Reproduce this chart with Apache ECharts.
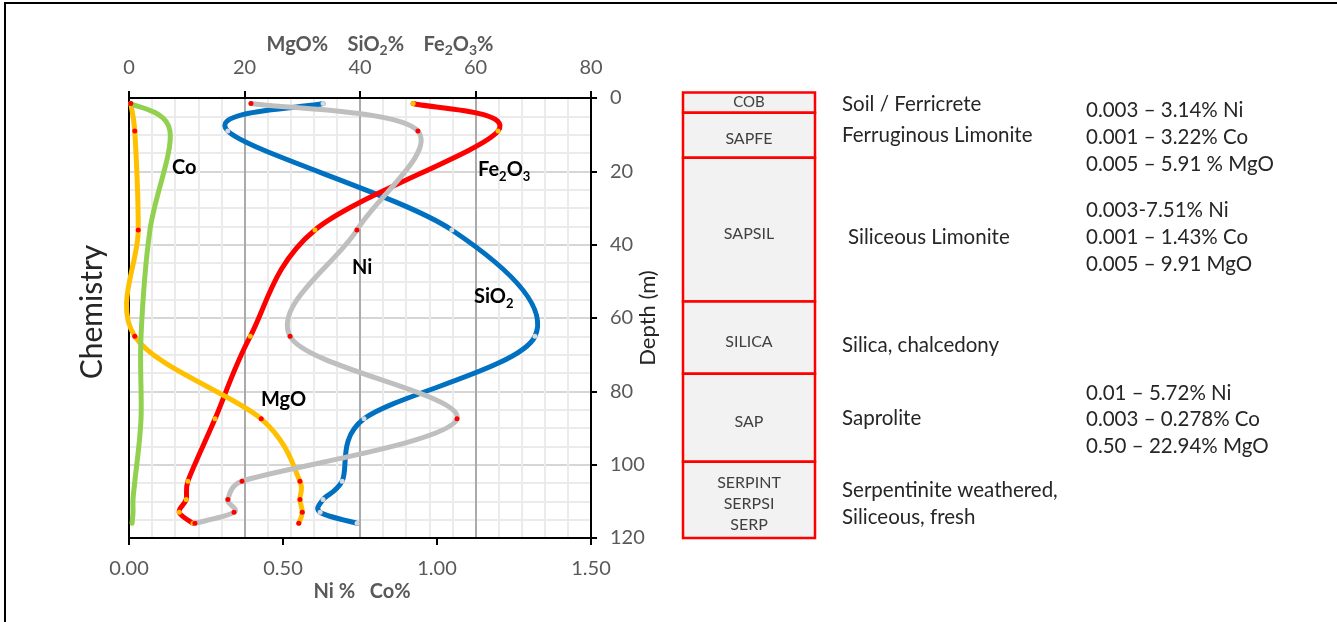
<!DOCTYPE html>
<html>
<head>
<meta charset="utf-8">
<title>Laterite profile chemistry</title>
<script src="https://cdn.jsdelivr.net/npm/echarts@6/dist/echarts.min.js"></script>
<style>
  html, body { margin: 0; padding: 0; background: #ffffff; }
  #chart { width: 1337px; height: 622px; }
</style>
</head>
<body>
<div id="chart"></div>
<script>
// Sample depths (m) shared by all assay series
const depth = [1.5, 9, 36, 65, 87.5, 104.5, 109.5, 113, 116];

// Major oxides, wt% (top axis)
const fe2o3 = [49.2, 63.9, 32.2, 21.0, 14.9, 10.2, 9.9, 8.7, 11.1];
const sio2  = [33.6, 17.1, 55.9, 70.3, 40.7, 36.9, 33.6, 33.1, 39.5];
const mgo   = [0.3, 1.0, 1.6, 1.0, 22.9, 29.6, 29.6, 30.0, 29.4];

// Metals, wt% (bottom axis)
const ni = [0.396, 0.938, 0.740, 0.523, 1.065, 0.367, 0.321, 0.341, 0.214];
const co = [0.006, 0.133, 0.068, 0.039, 0.039, 0.019, 0.013, 0.013, 0.010];

// Axis ticks
const oxideTicks = { min: 0, max: 80, interval: 20 };
const metalTicks = { min: 0, max: 1.5, interval: 0.5 };
const depthTicks = { min: 0, max: 120, interval: 20 };

// Lithological units (depth intervals in m)
const unitCodes = ['COB', 'SAPFE', 'SAPSIL', 'SILICA', 'SAP', 'SERPINT\nSERPSI\nSERP'];
const unitTop   = [-1.5, 4, 16.3, 55.5, 75.2, 99.2];
const unitBase  = [4, 16.3, 55.5, 75.2, 99.2, 120];

// Unit descriptions
const unitDescriptions = [
  'Soil / Ferricrete',
  'Ferruginous Limonite',
  'Siliceous Limonite',
  'Silica, chalcedony',
  'Saprolite',
  'Serpentinite weathered,',
  'Siliceous, fresh'
];

// Grade ranges
const gradeRanges = [
  '0.003 \u2013 3.14% Ni', '0.001 \u2013 3.22% Co', '0.005 \u2013 5.91 % MgO',
  '0.003-7.51% Ni', '0.001 \u2013 1.43% Co', '0.005 \u2013 9.91 MgO',
  '0.01 \u2013 5.72% Ni', '0.003 \u2013 0.278% Co', '0.50 \u2013 22.94% MgO'
];

const FONT = 'Lato, Carlito, Calibri, "Open Sans", sans-serif';
const AXIS_GREY = '#595959';
const TEXT_DARK = '#262626';

function pairs(values) {
  return values.map((v, i) => [v, depth[i]]);
}

// Cardinal spline through pixel points (tension 1/6, handles capped at half a segment)
function smoothPath(pts) {
  const n = pts.length;
  const d = (a, b) => Math.hypot(b[0] - a[0], b[1] - a[1]);
  let path = 'M' + pts[0][0] + ' ' + pts[0][1];
  for (let i = 0; i < n - 1; i++) {
    const p0 = pts[Math.max(i - 1, 0)];
    const p1 = pts[i];
    const p2 = pts[i + 1];
    const p3 = pts[Math.min(i + 2, n - 1)];
    const seg = d(p1, p2);
    const d02 = d(p0, p2) || 1;
    const d13 = d(p1, p3) || 1;
    const f0 = Math.min(1 / 6, seg / (2 * d02));
    const f1 = Math.min(1 / 6, seg / (2 * d13));
    const c1 = [p1[0] + f0 * (p2[0] - p0[0]), p1[1] + f0 * (p2[1] - p0[1])];
    const c2 = [p2[0] - f1 * (p3[0] - p1[0]), p2[1] - f1 * (p3[1] - p1[1])];
    path += ' C' + c1[0] + ' ' + c1[1] + ' ' + c2[0] + ' ' + c2[1] + ' ' + p2[0] + ' ' + p2[1];
  }
  return path;
}

function profileSeries(name, values, xAxisIndex, lineColor, markerColor, showMarkers) {
  return {
    name: name,
    type: 'custom',
    xAxisIndex: xAxisIndex,
    yAxisIndex: 0,
    clip: false,
    animation: false,
    encode: { x: 0, y: 1 },
    data: pairs(values),
    renderItem: function (params, api) {
      const children = [];
      if (params.dataIndex === 0) {
        const pts = values.map((v, i) => api.coord([v, depth[i]]));
        children.push({
          type: 'path',
          z2: 0,
          shape: { pathData: smoothPath(pts) },
          style: { fill: 'none', stroke: lineColor, lineWidth: 5, lineCap: 'round', lineJoin: 'round' }
        });
      }
      if (showMarkers) {
        const p = api.coord([api.value(0), api.value(1)]);
        children.push({
          type: 'circle',
          z2: 10,
          shape: { cx: p[0], cy: p[1], r: 2.5 },
          style: { fill: markerColor }
        });
      }
      return { type: 'group', children: children };
    }
  };
}

const chart = echarts.init(document.getElementById('chart'), null, { renderer: 'canvas' });

const subRich = (size) => ({
  b: { fontFamily: FONT, fontWeight: 'bold', fontSize: size, color: AXIS_GREY, lineHeight: 24 },
  s: { fontFamily: FONT, fontWeight: 'bold', fontSize: Math.round(size * 0.68), color: AXIS_GREY, lineHeight: 15, verticalAlign: 'bottom' }
});

function seriesTag(x, y, rich) {
  return {
    type: 'text',
    x: x, y: y,
    z: 100,
    style: {
      text: rich,
      textAlign: 'left',
      textVerticalAlign: 'middle',
      rich: {
        b: { fontFamily: FONT, fontWeight: 'bold', fontSize: 20, fill: '#000000', lineHeight: 26 },
        s: { fontFamily: FONT, fontWeight: 'bold', fontSize: 13, fill: '#000000', lineHeight: 16, verticalAlign: 'bottom' }
      }
    }
  };
}

function plainText(x, y, text, size, color) {
  return {
    type: 'text',
    x: x, y: y,
    style: {
      text: text,
      fontFamily: FONT,
      fontSize: size,
      fill: color,
      textAlign: 'left',
      textVerticalAlign: 'middle'
    }
  };
}

const descY = [104, 135, 237, 345, 418, 490, 517];
const descX = [842, 842, 848, 842, 842, 842, 842];
const gradeY = [110, 137, 164, 210, 237, 264, 393, 419, 446];

const graphics = [
  // outer frame
  { type: 'rect', shape: { x: 5, y: 3, width: 1345, height: 640 },
    style: { fill: 'none', stroke: '#000000', lineWidth: 2 }, z: 0 },
  seriesTag(172, 168, '{b|Co}'),
  seriesTag(478, 170, '{b|Fe}{s|2}{b|O}{s|3}'),
  seriesTag(352, 268, '{b|Ni}'),
  seriesTag(474, 297, '{b|SiO}{s|2}'),
  seriesTag(261, 400, '{b|MgO}')
];
unitDescriptions.forEach((t, i) => graphics.push(plainText(descX[i], descY[i], t, 20.5, TEXT_DARK)));
gradeRanges.forEach((t, i) => graphics.push(plainText(1086, gradeY[i], t, 20.5, TEXT_DARK)));

const option = {
  backgroundColor: '#ffffff',
  animation: false,
  textStyle: { fontFamily: FONT },
  grid: [
    { left: 129, right: 746, top: 98, bottom: 84, containLabel: false, outerBoundsMode: 'none' },
    { left: 683, right: 522, top: 98, bottom: 84, containLabel: false, outerBoundsMode: 'none' }
  ],
  xAxis: [
    {
      type: 'value', gridIndex: 0, position: 'top',
      min: oxideTicks.min, max: oxideTicks.max, interval: oxideTicks.interval,
      name: '{b|MgO%    SiO}{s|2}{b|%    Fe}{s|2}{b|O}{s|3}{b|%}',
      nameLocation: 'middle', nameGap: 41, nameMoveOverlap: false,
      nameTextStyle: { rich: subRich(20), padding: [0, 0, 0, 40] },
      axisLine: { show: true, onZero: false, lineStyle: { color: '#000000', width: 2 } },
      axisTick: { show: true, inside: false, length: 7, lineStyle: { color: '#000000', width: 2 } },
      axisLabel: { color: AXIS_GREY, fontSize: 20, fontFamily: FONT, margin: 20 },
      splitLine: { show: true, lineStyle: { color: '#ABABAB', width: 2 } },
      minorTick: { show: false, splitNumber: 5 },
      minorSplitLine: { show: true, lineStyle: { color: '#EBEBEB', width: 2 } }
    },
    {
      type: 'value', gridIndex: 0, position: 'bottom',
      min: metalTicks.min, max: metalTicks.max, interval: metalTicks.interval,
      name: 'Ni %   Co%',
      nameLocation: 'middle', nameGap: 44, nameMoveOverlap: false,
      nameTextStyle: { color: AXIS_GREY, fontWeight: 'bold', fontSize: 20, fontFamily: FONT, padding: [0, 0, 0, 4] },
      axisLine: { show: true, onZero: false, lineStyle: { color: '#000000', width: 2 } },
      axisTick: { show: true, inside: false, length: 7, lineStyle: { color: '#000000', width: 2 } },
      axisLabel: { color: AXIS_GREY, fontSize: 20, fontFamily: FONT, margin: 21,
        formatter: (v) => v.toFixed(2) },
      splitLine: { show: false }
    },
    {
      type: 'value', gridIndex: 1, min: 0, max: 1, show: false
    }
  ],
  yAxis: [
    {
      type: 'value', gridIndex: 0, position: 'right', inverse: true,
      min: depthTicks.min, max: depthTicks.max, interval: depthTicks.interval,
      name: 'Depth (m)', nameLocation: 'middle', nameGap: 46, nameMoveOverlap: false,
      nameTextStyle: { color: TEXT_DARK, fontSize: 22, fontFamily: FONT },
      axisLine: { show: true, onZero: false, lineStyle: { color: '#000000', width: 2 } },
      axisTick: { show: true, inside: false, length: 6, lineStyle: { color: '#000000', width: 2 } },
      axisLabel: { color: AXIS_GREY, fontSize: 20, fontFamily: FONT, margin: 19 },
      splitLine: { show: true, lineStyle: { color: '#D6D6D6', width: 2 } },
      minorTick: { show: false, splitNumber: 4 },
      minorSplitLine: { show: true, lineStyle: { color: '#EBEBEB', width: 2 } }
    },
    {
      type: 'value', gridIndex: 0, position: 'left', inverse: true,
      min: depthTicks.min, max: depthTicks.max, interval: depthTicks.interval,
      name: 'Chemistry', nameLocation: 'middle', nameGap: 22, nameMoveOverlap: false,
      nameTextStyle: { color: TEXT_DARK, fontSize: 30, fontFamily: FONT, padding: [0, 0, 0, 12] },
      axisLine: { show: true, onZero: false, lineStyle: { color: '#000000', width: 2 } },
      axisTick: { show: false },
      axisLabel: { show: false },
      splitLine: { show: false }
    },
    {
      type: 'value', gridIndex: 1, inverse: true,
      min: depthTicks.min, max: depthTicks.max, show: false
    }
  ],
  graphic: graphics,
  series: [
    profileSeries('SiO2', sio2, 0, '#0070C0', '#D9D9D9', true),
    profileSeries('Fe2O3', fe2o3, 0, '#FF0000', '#FFC000', true),
    profileSeries('MgO', mgo, 0, '#FFC000', '#FF0000', true),
    profileSeries('Co', co, 1, '#92D050', '#92D050', false),
    profileSeries('Ni', ni, 1, '#BFBFBF', '#FF0000', true),
    {
      name: 'Units',
      type: 'custom',
      xAxisIndex: 2,
      yAxisIndex: 2,
      clip: false,
      animation: false,
      encode: { x: -1, y: [0, 1] },
      data: unitTop.map((t, i) => [t, unitBase[i], i]),
      renderItem: function (params, api) {
        const top = api.value(0);
        const base = api.value(1);
        const p0 = api.coord([0, top]);
        const p1 = api.coord([1, base]);
        const code = unitCodes[api.value(2)];
        const small = code === 'COB';
        return {
          type: 'rect',
          shape: { x: p0[0], y: p0[1], width: p1[0] - p0[0], height: p1[1] - p0[1] },
          style: { fill: '#F2F2F2', stroke: '#FF0000', lineWidth: 2.5 },
          textContent: {
            style: {
              text: code,
              fill: '#404040',
              fontFamily: FONT,
              fontSize: small ? 15 : 16,
              lineHeight: 21,
              align: 'center'
            }
          },
          textConfig: { position: 'inside', offset: [0, small ? 0 : 4] }
        };
      }
    }
  ]
};

chart.setOption(option);
</script>
</body>
</html>
